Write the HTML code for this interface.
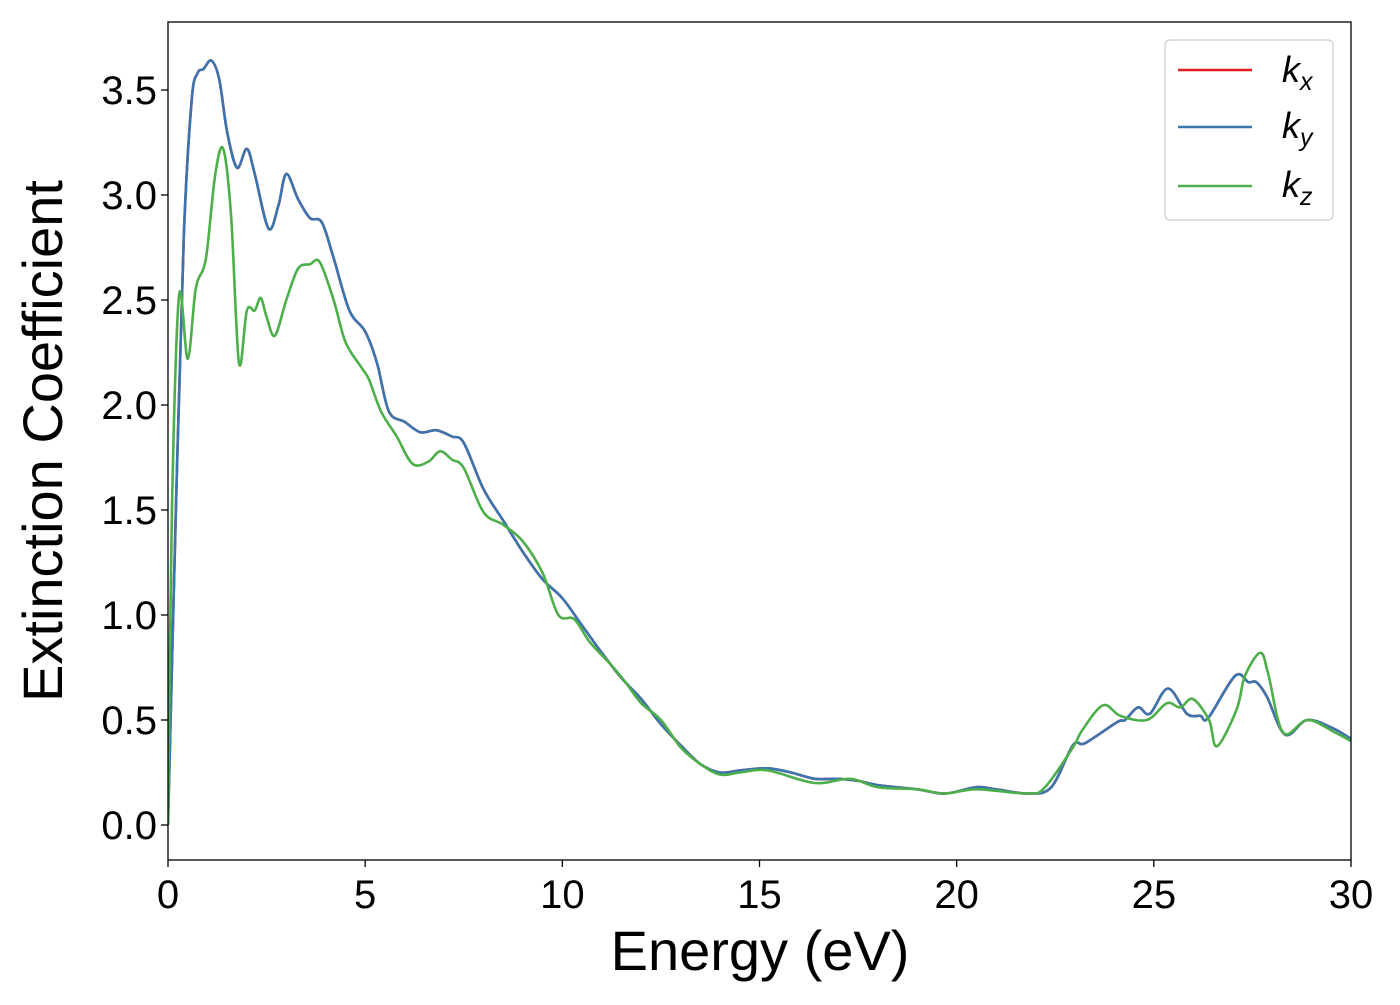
<!DOCTYPE html>
<html><head><meta charset="utf-8"><style>
body{margin:0;background:#fff;}
svg text{font-family:"Liberation Sans","DejaVu Sans",sans-serif;fill:#000;}
</style></head><body>
<svg width="1400" height="1000" xmlns="http://www.w3.org/2000/svg">
<g id="ticks"></g>
<g id="series" clip-path="url(#clip)"></g>
<defs><clipPath id="clip"><rect x="168" y="22" width="1183" height="838"/></clipPath></defs>
<rect x="168" y="22" width="1183" height="838" fill="none" stroke="#000" stroke-width="1.3"/>
<text x="760" y="970" font-size="56" text-anchor="middle">Energy (eV)</text>
<text transform="translate(62,441) rotate(-90)" font-size="56" text-anchor="middle">Extinction Coefficient</text>
<g>
<rect x="1165" y="40" width="168" height="180" rx="5" fill="#fff" stroke="#ccc" stroke-width="1.2"/>
<g><line x1="1178" y1="70" x2="1252" y2="70" stroke="#e41a1c" stroke-width="2.5"/><text x="1282" y="82" font-size="36" font-style="italic">k<tspan font-size="25" dy="8">x</tspan></text></g>
<g><line x1="1178" y1="127" x2="1252" y2="127" stroke="#3a75b0" stroke-width="2.5"/><text x="1282" y="138" font-size="36" font-style="italic">k<tspan font-size="25" dy="8">y</tspan></text></g>
<g><line x1="1178" y1="186" x2="1252" y2="186" stroke="#4daf4a" stroke-width="2.5"/><text x="1282" y="197" font-size="36" font-style="italic">k<tspan font-size="25" dy="8">z</tspan></text></g>
</g>
</svg>
<script>
const xTicks=[0,5,10,15,20,25,30];
const yTicks=[0.0,0.5,1.0,1.5,2.0,2.5,3.0,3.5];
const energyXY=[0,0.2,0.4,0.6,0.75,0.9,1.1,1.3,1.5,1.75,2.0,2.2,2.55,2.8,3.0,3.3,3.6,3.9,4.2,4.6,5.0,5.3,5.6,6.0,6.4,6.8,7.2,7.5,8.0,8.5,9.0,9.5,10.0,10.5,11.0,11.5,12.0,12.5,13.0,13.5,14.0,14.5,15.2,15.8,16.4,17.0,17.5,18.0,19.0,19.7,20.5,21.0,21.8,22.4,22.95,23.26,24.07,24.27,24.6,24.9,25.36,25.84,26.18,26.38,27.06,27.4,27.6,27.87,28.33,28.89,29.55,30];
const kx=[0,1.5,2.8,3.45,3.58,3.6,3.64,3.55,3.3,3.13,3.22,3.1,2.84,2.95,3.1,2.98,2.89,2.87,2.7,2.45,2.35,2.2,1.97,1.92,1.87,1.88,1.85,1.82,1.6,1.45,1.3,1.17,1.08,0.95,0.82,0.7,0.6,0.48,0.38,0.29,0.25,0.26,0.27,0.25,0.22,0.22,0.21,0.19,0.17,0.15,0.18,0.17,0.15,0.18,0.38,0.39,0.49,0.5,0.56,0.53,0.65,0.53,0.52,0.51,0.71,0.68,0.68,0.61,0.43,0.5,0.46,0.41];
const ky=kx.slice();
const energyZ=[0,0.1,0.28,0.5,0.7,0.9,1.0,1.2,1.4,1.6,1.8,2.0,2.2,2.35,2.5,2.71,3.0,3.3,3.6,3.85,4.2,4.5,4.9,5.1,5.4,5.8,6.2,6.6,6.9,7.2,7.5,8.0,8.5,9.0,9.5,9.9,10.3,10.7,11.2,11.6,12.0,12.5,13.0,13.5,14.0,14.5,15.2,16.4,17.3,18.0,19.0,19.7,20.5,21.8,22.24,22.95,23.18,23.71,24.15,24.82,25.33,25.67,25.99,26.4,26.6,27.1,27.31,27.7,27.9,28.28,28.9,29.6,30];
const kz=[0,1.5,2.52,2.22,2.55,2.65,2.75,3.1,3.22,2.9,2.2,2.45,2.45,2.51,2.42,2.33,2.5,2.65,2.67,2.68,2.5,2.3,2.18,2.12,1.97,1.85,1.72,1.73,1.78,1.74,1.7,1.49,1.43,1.35,1.2,1.0,0.98,0.87,0.77,0.68,0.58,0.5,0.37,0.29,0.24,0.25,0.26,0.2,0.22,0.18,0.17,0.15,0.17,0.15,0.18,0.37,0.45,0.57,0.52,0.5,0.58,0.56,0.6,0.5,0.375,0.55,0.71,0.82,0.72,0.44,0.5,0.44,0.4];
const NS="http://www.w3.org/2000/svg";
const X=e=>168+e*(1183/30);
const Y=k=>825-k*210;
const tg=document.getElementById('ticks');
xTicks.forEach(t=>{
  const l=document.createElementNS(NS,'line');
  l.setAttribute('x1',X(t));l.setAttribute('x2',X(t));l.setAttribute('y1',860);l.setAttribute('y2',867);l.setAttribute('stroke','#000');l.setAttribute('stroke-width','1.3');
  
  
  tg.appendChild(l);
  const tx=document.createElementNS(NS,'text');
  tx.setAttribute('x',X(t));tx.setAttribute('y',908);tx.setAttribute('font-size','40');tx.setAttribute('text-anchor','middle');
  tx.textContent=t;
  
  
  tg.appendChild(tx);
});
yTicks.forEach(t=>{
  const l=document.createElementNS(NS,'line');
  l.setAttribute('x1',161);l.setAttribute('x2',168);l.setAttribute('y1',Y(t));l.setAttribute('y2',Y(t));l.setAttribute('stroke','#000');l.setAttribute('stroke-width','1.3');
  
  
  tg.appendChild(l);
  const tx=document.createElementNS(NS,'text');
  tx.setAttribute('x',157);tx.setAttribute('y',Y(t)+14);tx.setAttribute('font-size','40');tx.setAttribute('text-anchor','end');
  tx.textContent=t.toFixed(1);
  
  
  tg.appendChild(tx);
});
function smooth(es,ks){
  const p=es.map((e,i)=>[X(e),Y(ks[i])]);
  let d='M'+p[0][0]+','+p[0][1];
  for(let i=0;i<p.length-1;i++){
    const p0=p[Math.max(0,i-1)],p1=p[i],p2=p[i+1],p3=p[Math.min(p.length-1,i+2)];
    const c1=[p1[0]+(p2[0]-p0[0])/6,p1[1]+(p2[1]-p0[1])/6];
    const c2=[p2[0]-(p3[0]-p1[0])/6,p2[1]-(p3[1]-p1[1])/6];
    d+=' C'+c1.join(',')+' '+c2.join(',')+' '+p2.join(',');
  }
  return d;
}
const sg=document.getElementById('series');
[[energyXY,kx,'#e41a1c','series-kx'],[energyXY,ky,'#3a75b0','series-ky'],[energyZ,kz,'#4daf4a','series-kz']].forEach(s=>{
  const path=document.createElementNS(NS,'path');
  path.setAttribute('d',smooth(s[0],s[1]));
  path.setAttribute('fill','none');path.setAttribute('stroke',s[2]);path.setAttribute('stroke-width','2.6');
  
  
  sg.appendChild(path);
});
</script>
</body></html>
